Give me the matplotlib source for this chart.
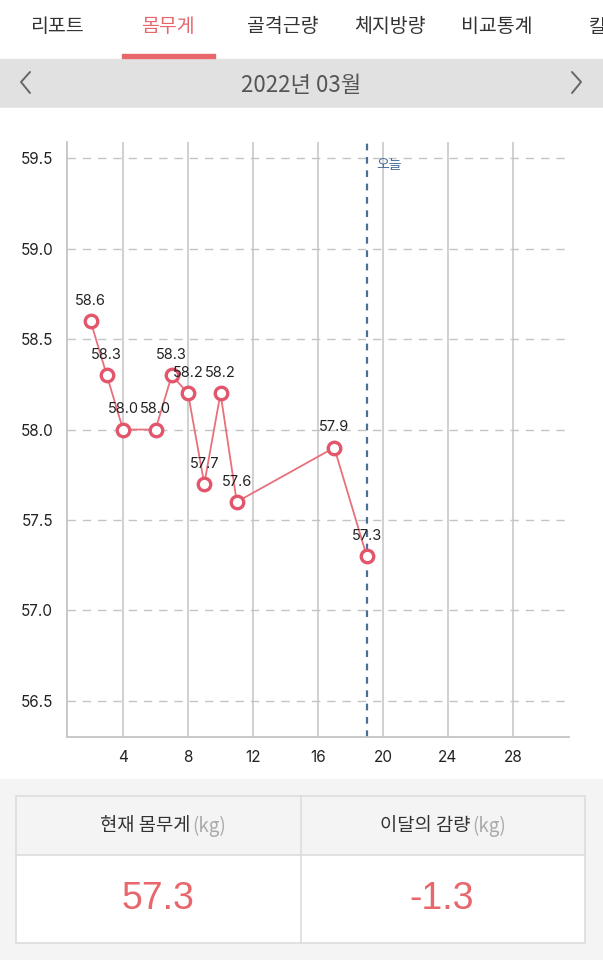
import matplotlib.pyplot as plt
import matplotlib.patches as mpatches

# Data
days = [2, 3, 4, 6, 7, 8, 9, 10, 11, 17, 19]
weights = [58.6, 58.3, 58.0, 58.0, 58.3, 58.2, 57.7, 58.2, 57.6, 57.9, 57.3]
today = 19
y_ticks = [56.5, 57.0, 57.5, 58.0, 58.5, 59.0, 59.5]
x_ticks = [4, 8, 12, 16, 20, 24, 28]
tabs = ["리포트", "몸무게", "골격근량", "체지방량", "비교통계", "칼"]
month_title = "2022년 03월"
current_weight = "57.3"
month_change = "-1.3"

KR = ['Noto Sans CJK KR', 'DejaVu Sans']
NUM = 'Inter'
RED = '#e8676d'

fig = plt.figure(figsize=(6.03, 9.6), dpi=100)

# Background layer in pixel coordinates
bg = fig.add_axes([0, 0, 1, 1])
bg.set_xlim(0, 603)
bg.set_ylim(960, 0)
bg.axis('off')

bg.add_patch(mpatches.Rectangle((0, 0), 603, 59, color='white'))
bg.add_patch(mpatches.Rectangle((0, 59), 603, 49, color='#e1e1e1'))
bg.add_patch(mpatches.Rectangle((0, 108), 603, 671, color='white'))
bg.add_patch(mpatches.Rectangle((0, 779), 603, 181, color='#f4f4f4'))
bg.add_patch(mpatches.Rectangle((122, 54), 93, 4, color=RED))

tab_x = [57, 168, 283, 390, 497, 598]
for x, t in zip(tab_x, tabs):
    bg.text(x, 27, t, ha='center', va='center', fontsize=14, family=KR,
            color=RED if t == "몸무게" else '#333333', clip_on=True)

bg.text(301, 85, month_title, ha='center', va='center', fontsize=16, family=KR, color='#555555')
# navigation chevrons
bg.plot([30, 21, 30], [72, 82, 93], color='#666666', lw=1.4, solid_capstyle='round')
bg.plot([572, 581, 572], [72, 82, 93], color='#666666', lw=1.4, solid_capstyle='round')

# Summary table
bg.add_patch(mpatches.Rectangle((16, 796), 569, 59, facecolor='#f4f4f4', edgecolor='none'))
bg.add_patch(mpatches.Rectangle((16, 855), 569, 88, facecolor='white', edgecolor='none'))
bg.add_patch(mpatches.Rectangle((16, 796), 569, 147, facecolor='none', edgecolor='#dcdcdc', lw=1.2))
bg.plot([16, 585], [855, 855], color='#dcdcdc', lw=1.2)
bg.plot([301, 301], [796, 943], color='#dcdcdc', lw=1.2)

for split, head, cx, val in [(191, "현재 몸무게", 158, current_weight), (471, "이달의 감량", 442, month_change)]:
    bg.text(split, 826, head, ha='right', va='center', fontsize=13.5, family=KR, color='#333333')
    bg.text(split + 1, 826, "(kg)", ha='left', va='center', fontsize=13.5, family=KR, color='#aaaaaa')
    bg.text(cx, 899, val, ha='center', va='center', fontsize=27, family='Liberation Sans', color=RED)

# Chart
ax = fig.add_axes([67 / 603, 1 - 737 / 960, (569 - 67) / 603, (737 - 142) / 960])
ax.set_facecolor('none')
ax.set_xlim(0.55, 31.45)
ax.set_ylim(56.3, 59.59)

for x in x_ticks:
    ax.axvline(x, color='#c4c4c4', lw=1.1, zorder=1)
for y in y_ticks:
    ax.axhline(y, color='#c4c4c4', lw=1.0, ls=(0, (6, 5)), zorder=1)

ax.axvline(today, color='#4a6e9a', lw=1.6, ls=(0, (3, 3)), zorder=2)
ax.text(today + 0.6, 59.5, "오늘", ha='left', va='top', fontsize=10, family=KR, color='#4a6e9a')

ax.plot(days, weights, color='#e8707a', lw=1.3, marker='o', markersize=9,
        markerfacecolor='white', markeredgecolor='#e2556a', markeredgewidth=2.4, zorder=4)

for d, w in zip(days, weights):
    ax.annotate(f"{w:.1f}", (d, w), xytext=(0, 14.5), textcoords='offset points',
                ha='center', va='center', fontsize=10.5, family=NUM, color='#222222', zorder=5)

for s in ['top', 'right']:
    ax.spines[s].set_visible(False)
for s in ['left', 'bottom']:
    ax.spines[s].set_color('#c4c4c4')
    ax.spines[s].set_linewidth(1.3)

ax.set_xticks(x_ticks)
ax.set_yticks(y_ticks)
ax.set_yticklabels([f"{v:.1f}" for v in y_ticks])
ax.tick_params(length=0, labelsize=11, colors='#222222')
ax.tick_params(axis='y', pad=10)
ax.tick_params(axis='x', pad=9)
for lab in ax.get_xticklabels() + ax.get_yticklabels():
    lab.set_family(NUM)

fig.savefig('out.png', dpi=100)
